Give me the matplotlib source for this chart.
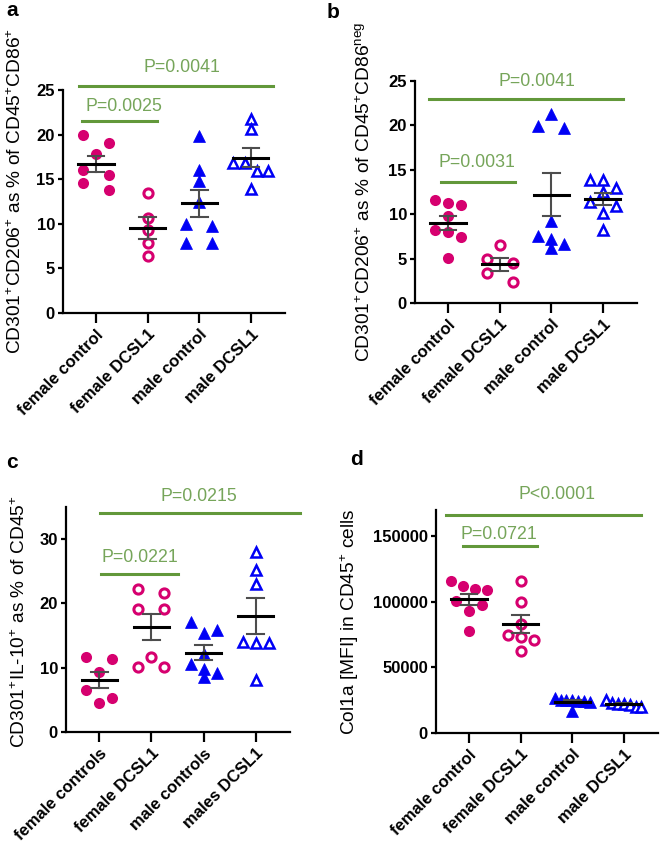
import numpy as np
import matplotlib
matplotlib.use('Agg')
import matplotlib.pyplot as plt

plt.rcParams['font.family'] = ['Liberation Sans', 'DejaVu Sans']
plt.rcParams['mathtext.fontset'] = 'custom'
plt.rcParams['mathtext.rm'] = 'Liberation Sans'
plt.rcParams['mathtext.it'] = 'Liberation Sans:italic'
plt.rcParams['mathtext.bf'] = 'Liberation Sans:bold'

# ---- data ----
groups_abd = ['female control', 'female DCSL1', 'male control', 'male DCSL1']
groups_c = ['female controls', 'female DCSL1', 'male controls', 'males DCSL1']

# panel a
a_fc = [20.0, 19.1, 17.8, 16.0, 15.5, 14.6, 13.8]
a_fd = [13.4, 10.7, 9.3, 7.9, 6.4]
a_mc = [19.85, 16.0, 14.8, 12.4, 10.0, 9.7, 7.9, 7.9]
a_md = [21.8, 20.6, 16.8, 16.8, 15.9, 15.9, 13.9]
# panel b
b_fc = [11.6, 11.3, 11.0, 9.8, 8.2, 8.0, 7.4, 5.1]
b_fd = [6.5, 4.9, 4.5, 3.4, 2.4]
b_mc = [21.3, 19.9, 19.7, 9.2, 7.5, 7.2, 6.7, 6.2]
b_md = [13.9, 13.9, 12.9, 12.5, 11.4, 10.9, 10.1, 8.2]
# panel c
c_fc = [11.65, 11.3, 9.4, 6.5, 5.3, 4.5]
c_fd = [22.3, 21.6, 19.2, 19.1, 11.7, 10.1, 10.1]
c_mc = [17.1, 15.9, 15.4, 12.2, 10.6, 9.8, 9.2, 8.6]
c_md = [28.0, 25.2, 23.1, 14.0, 13.9, 13.8, 8.1]
# panel d
d_fc = [115700, 111900, 109800, 108800, 100900, 97900, 92800, 77500]
d_fd = [116200, 99900, 83400, 75000, 73200, 71200, 62800]
d_mc = [26500, 25500, 25000, 25000, 24500, 24500, 24000, 17000]
d_md = [25500, 23000, 22000, 22000, 21000, 20000, 19500]

# p-value labels per panel (short bracket, long bracket)
a_ptext = ['P=0.0025', 'P=0.0041']
b_ptext = ['P=0.0031', 'P=0.0041']
c_ptext = ['P=0.0221', 'P=0.0215']
d_ptext = ['P=0.0721', 'P<0.0001']

# bracket layout: (x start, x end, line y, text x, text y)
a_brk = [(-0.27, 1.18, 21.56, 0.54, 23.1), (-0.33, 3.42, 25.45, 1.66, 27.5)]
b_brk = [(-0.13, 1.29, 13.63, 0.56, 15.8), (-0.37, 3.38, 22.94, 1.73, 24.9)]
c_brk = [(0.04, 1.51, 24.6, 0.77, 27.2), (0.02, 3.85, 34.0, 1.91, 36.7)]
d_brk = [(-0.12, 1.32, 142600, 0.58, 151500), (-0.44, 3.33, 166300, 1.70, 182100)]

MAG = '#d6006f'
BLUE = '#0000f5'
GREEN_LINE = '#62983a'
GREEN_TXT = '#76a55a'

W, H = 661, 844
fig = plt.figure(figsize=(W / 100, H / 100), dpi=100)


def px_axes(l, r, b, t):
    return fig.add_axes([l / W, 1 - b / H, (r - l) / W, (b - t) / H])


def swarm(vals, thr, step=0.25, maxw=0.34):
    vals = np.asarray(vals, float)
    order = np.argsort(-vals, kind='stable')
    rows = []
    for i in order:
        if rows and rows[-1][0] - vals[i] < thr:
            rows[-1][1].append(i)
        else:
            rows.append((vals[i], [i]))
    off = np.zeros(len(vals))
    for _, idx in rows:
        n = len(idx)
        if n == 1:
            pos = np.array([0.0])
        elif n == 2:
            pos = np.array([-1.0, 1.0])
        else:
            pos = np.arange(n) - (n - 1) / 2
        pos = pos * step
        if np.abs(pos).max() > maxw:
            pos = pos * maxw / np.abs(pos).max()
        off[idx] = pos
    return off


styles = [
    dict(marker='o', ms=8.0, mfc=MAG, mec=MAG, mew=0),
    dict(marker='o', ms=6.6, mfc='white', mec=MAG, mew=2.2),
    dict(marker='^', ms=8.8, mfc=BLUE, mec=BLUE, mew=0.5),
    dict(marker='^', ms=7.8, mfc='white', mec=BLUE, mew=1.8),
]


def panel(ax, data, labels, ylim, yticks, ptext, brk, ylabel, lab_xy, letter, letter_xy):
    ax.set_xlim(-0.64, 3.66)
    ax.set_ylim(*ylim)
    h_px = ax.get_position().height * H
    thr = (ylim[1] - ylim[0]) / h_px * 9.5
    for i, (vals, st) in enumerate(zip(data, styles)):
        vals = np.asarray(vals, float)
        x = i + swarm(vals, thr)
        ax.plot(x, vals, ls='none', zorder=3, clip_on=False, **st)
        m = vals.mean()
        sem = vals.std(ddof=1) / np.sqrt(len(vals))
        ax.plot([i, i], [m - sem, m + sem], color='#4d4d4d', lw=1.5, zorder=4)
        for yy in (m - sem, m + sem):
            ax.plot([i - 0.16, i + 0.16], [yy, yy], color='#4d4d4d', lw=1.5, zorder=4)
        ax.plot([i - 0.34, i + 0.34], [m, m], color='black', lw=2.2, zorder=5)
    for txt, (x0, x1, yv, tx, ty) in zip(ptext, brk):
        ax.plot([x0, x1], [yv, yv], color=GREEN_LINE, lw=2.2, clip_on=False)
        ax.text(tx, ty, txt, color=GREEN_TXT, fontsize=12.8,
                ha='center', va='center', clip_on=False)
    ax.set_xticks(range(4))
    ax.set_xticklabels(labels, rotation=45, ha='right', rotation_mode='anchor',
                       fontsize=12, fontweight='bold')
    ax.set_yticks(yticks)
    ax.set_yticklabels([str(t) for t in yticks], fontsize=12, fontweight='bold')
    for s in ('top', 'right'):
        ax.spines[s].set_visible(False)
    for s in ('left', 'bottom'):
        ax.spines[s].set_linewidth(1.6)
    ax.tick_params(axis='x', length=7, width=1.6, pad=3)
    ax.tick_params(axis='y', length=3.8, width=1.6, pad=2)
    ax.set_ylabel(ylabel, fontsize=13.8, va='center')
    ax.yaxis.set_label_coords(*lab_xy)
    fig.text(letter_xy[0] / W, 1 - letter_xy[1] / H, letter, fontsize=15,
             fontweight='bold', ha='center', va='center')


ax_a = px_axes(63, 285, 313, 90)
panel(ax_a, [a_fc, a_fd, a_mc, a_md], groups_abd, (0, 25), [0, 5, 10, 15, 20, 25],
      a_ptext, a_brk, r'CD301$^{+}$CD206$^{+}$ as % of CD45$^{+}$CD86$^{+}$',
      (-0.215, 0.545), 'a', (12, 11))

ax_b = px_axes(415, 637, 303, 81)
panel(ax_b, [b_fc, b_fd, b_mc, b_md], groups_abd, (0, 25), [0, 5, 10, 15, 20, 25],
      b_ptext, b_brk, r'CD301$^{+}$CD206$^{+}$ as % of CD45$^{+}$CD86$^{\mathregular{neg}}$',
      (-0.225, 0.5), 'b', (333, 13))

ax_c = px_axes(66, 290, 732, 507)
panel(ax_c, [c_fc, c_fd, c_mc, c_md], groups_c, (0, 35), [0, 10, 20, 30],
      c_ptext, c_brk, r'CD301$^{+}$IL-10$^{+}$ as % of CD45$^{+}$', (-0.205, 0.49),
      'c', (12, 462))

ax_d = px_axes(436, 658, 733, 510)
panel(ax_d, [d_fc, d_fd, d_mc, d_md], groups_abd, (0, 170000), [0, 50000, 100000, 150000],
      d_ptext, d_brk, r'Col1a [MFI] in CD45$^{+}$ cells', (-0.387, 0.5), 'd', (357, 460))

fig.savefig('out.png', dpi=100, facecolor='white')
